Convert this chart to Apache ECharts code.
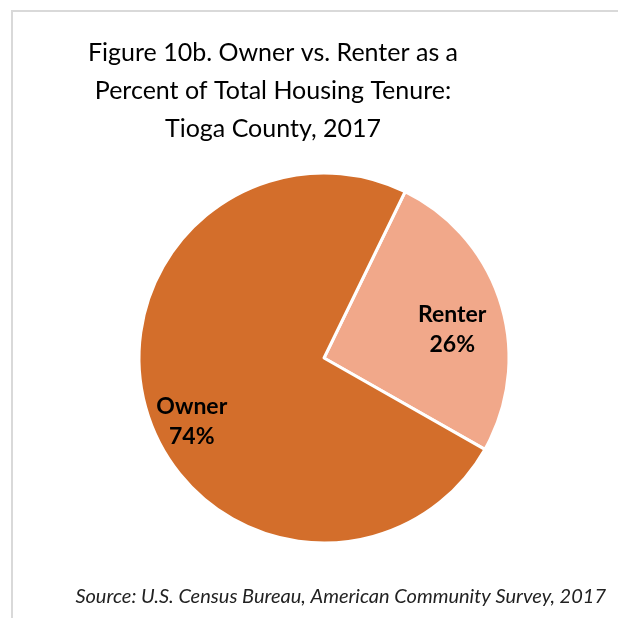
<!DOCTYPE html>
<html>
<head>
<meta charset="utf-8">
<script src="https://cdn.jsdelivr.net/npm/echarts@6/dist/echarts.min.js"></script>
<style>
  html, body { margin: 0; padding: 0; background: #fff; }
  #app { width: 618px; height: 618px; }
</style>
</head>
<body>
<div id="app"></div>
<script>
// tenure split, Tioga County 2017
var categories = ['Renter', 'Owner'];
var percents = [26, 74];
var sliceColors = ['#F1A88A', '#D36E2B'];

var titleText = 'Figure 10b. Owner vs. Renter as a\nPercent of Total Housing Tenure:\nTioga County, 2017';
var sourceText = 'Source: U.S. Census Bureau, American Community Survey, 2017';

var FONT = 'Lato, "Open Sans", sans-serif';

var pieData = [];
for (var i = 0; i < categories.length; i++) {
	pieData.push({
		name: categories[i],
		value: percents[i],
		itemStyle: { color: sliceColors[i] }
	});
}

// nudge for the inside labels (Excel puts them further out than ECharts does)
var labelShift = [
	{ dx: 37, dy: 0 },
	{ dx: -41, dy: 35 }
];

var chart = echarts.init(document.getElementById('app'));
chart.setOption({
	animation: false,
	backgroundColor: '#fff',
	title: [
		{
			text: titleText,
			left: 268,
			top: 29,
			textAlign: 'center',
			textStyle: {
				fontFamily: FONT,
				fontSize: 25,
				fontWeight: 'normal',
				color: '#000',
				lineHeight: 38
			}
		},
		{
			text: sourceText,
			right: 7,
			bottom: 6,
			textStyle: {
				fontFamily: FONT,
				fontSize: 20,
				fontStyle: 'italic',
				fontWeight: 'normal',
				color: '#222',
				lineHeight: 20
			}
		}
	],
	graphic: [
		{ type: 'line', shape: { x1: 11, y1: 11, x2: 618, y2: 11 }, style: { stroke: '#d9d9d9', lineWidth: 2 } },
		{ type: 'line', shape: { x1: 12, y1: 11, x2: 12, y2: 618 }, style: { stroke: '#d9d9d9', lineWidth: 2 } }
	],
	series: [{
		type: 'pie',
		center: [324, 358],
		radius: 185,
		startAngle: 64,
		clockwise: true,
		data: pieData,
		itemStyle: { borderColor: '#fff', borderWidth: 3 },
		label: {
			show: true,
			position: 'inside',
			formatter: '{b}\n{c}%',
			fontFamily: FONT,
			fontSize: 23,
			fontWeight: 'bold',
			color: '#000',
			lineHeight: 30,
			align: 'center'
		},
		labelLine: { show: false },
		labelLayout: function (params) {
			return labelShift[params.dataIndex];
		},
		emphasis: { disabled: true }
	}]
});
</script>
</body>
</html>
